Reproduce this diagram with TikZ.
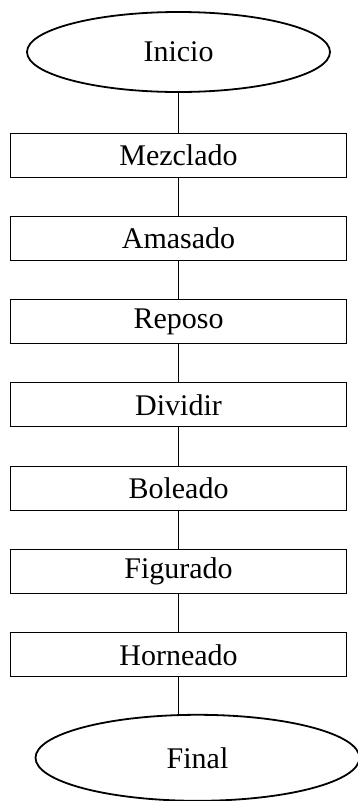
\documentclass[tikz,border=0pt]{standalone}
\usepackage{fontspec}
\setmainfont{Liberation Serif}
\usetikzlibrary{positioning,shapes.geometric}

\begin{document}
\begin{tikzpicture}[x=1pt,y=1pt,node distance=83.3pt,on grid,
    paso/.style={draw,line width=1pt,minimum width=336pt,minimum height=44pt,
      inner sep=0pt,font=\fontsize{30}{33}\selectfont},
    extremo/.style={ellipse,draw,line width=1.8pt,inner sep=0pt,
      font=\fontsize{30}{33}\selectfont},
    linea/.style={line width=1pt}]
    \useasboundingbox (0,0) rectangle (357,-801);
    \node[extremo,minimum width=303pt,minimum height=80pt] (inicio) at (178.5,-52) {Inicio};
    \node[paso] (mezclado) [below=103pt of inicio] {Mezclado};
    \node[paso] (amasado)  [below=of mezclado] {Amasado};
    \node[paso] (reposo)   [below=of amasado] {Reposo};
    \node[paso] (dividir)  [below=of reposo] {Dividir};
    \node[paso] (boleado)  [below=of dividir] {Boleado};
    \node[paso] (figurado) [below=of boleado] {Figurado};
    \node[paso] (horneado) [below=of figurado] {Horneado};
    \node[extremo,minimum width=324pt,minimum height=86pt] (final) [below right=103pt and 19pt of horneado] {Final};
    \foreach \a/\b in {inicio/mezclado,mezclado/amasado,amasado/reposo,reposo/dividir,
                       dividir/boleado,boleado/figurado,figurado/horneado}
        \draw[linea] (\a) -- (\b);
    \draw[linea] (horneado) -- (horneado |- final.north);
\end{tikzpicture}
\end{document}
